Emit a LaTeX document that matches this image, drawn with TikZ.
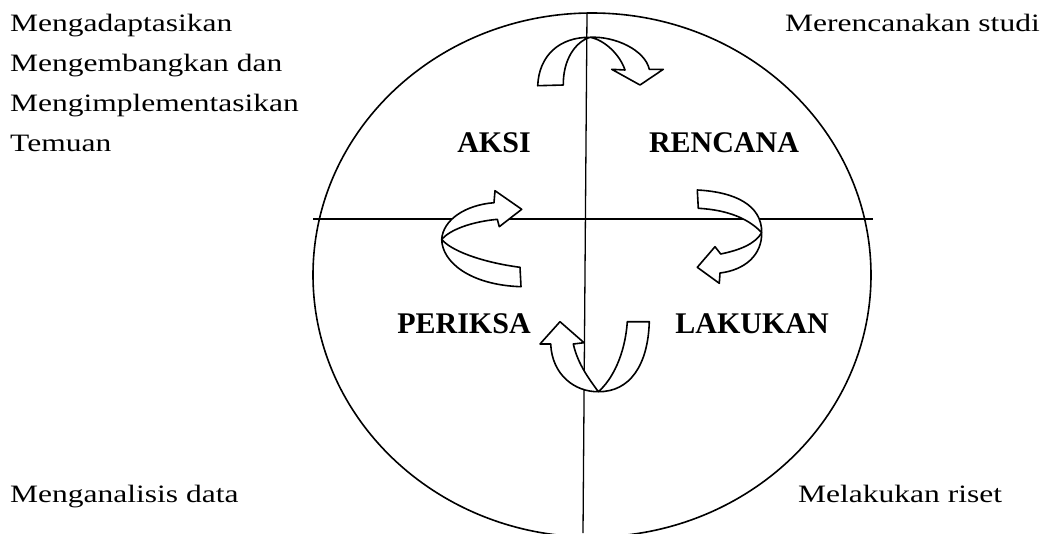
\documentclass[tikz,border=0pt]{standalone}
\usepackage{fontspec}
\setmainfont{Liberation Serif}
\newfontfamily\widefont{Liberation Serif}[FakeStretch=1.26]
\begin{document}
\begin{tikzpicture}[x=1pt,y=-1pt,
  lbl/.style={font=\widefont\fontsize{25}{29}\selectfont, inner sep=0pt},
  phase/.style={font=\bfseries\fontsize{30}{34}\selectfont, inner sep=0pt, anchor=base},
  axis/.style={draw=black, line width=1.3pt},
  rim/.style={draw=black, line width=1.6pt},
  arr/.style={draw=black, line width=1.6pt, fill=white, line join=round}]
\useasboundingbox (0,0) rectangle (1047,533);
\clip (0,0) rectangle (1047,533);
% axes
\coordinate (vt) at (587,13);
\coordinate (vb) at (583,533);
\coordinate (hl) at (313,219);
\coordinate (hr) at (873,219);
\draw[axis] (vt) -- (vb);
\draw[axis] (hl) -- (hr);
% circle
\coordinate (c) at (592,275);
\draw[rim] (c) ellipse [x radius=279pt, y radius=262pt];
% top arrow
\draw[arr] (537.7,85.7) .. controls (539,55) and (560,37) .. (590,37.3)
  .. controls (615,36) and (645,50) .. (649.3,69.3)
  -- (663.3,69.3) -- (640,85) -- (611.7,69.3) -- (625,70)
  .. controls (620,55) and (605,40) .. (590,37.3)
  .. controls (575,42) and (563,60) .. (563.3,85) -- cycle;
% right arrow
\draw[arr] (697.3,190) .. controls (735,192) and (762,205) .. (761.7,232.7)
  .. controls (762,255) and (745,270) .. (720,273)
  -- (719.3,283.3) -- (697.3,267.3) -- (715,246.7) -- (720.7,254)
  .. controls (740,250) and (755,244) .. (761.7,232.7)
  .. controls (750,220) and (730,210) .. (698.3,208.3) -- cycle;
% left arrow
\draw[arr] (520,267.3) .. controls (480,262) and (450,250) .. (441.7,239.3)
  .. controls (443,220) and (465,205) .. (494,202.7)
  -- (495,190.7) -- (521.7,209.3) -- (499.3,226.7) -- (497.3,219.3)
  .. controls (470,222) and (450,230) .. (441.7,239.3)
  .. controls (442,262) and (470,285) .. (521,286.7) -- cycle;
% bottom arrow
\draw[arr] (627.3,321.7) .. controls (625,355) and (612,380) .. (598.3,391.7)
  .. controls (575,392) and (552,375) .. (550.7,344)
  -- (540,344) -- (560,321.7) -- (584,342.7) -- (573.3,344)
  .. controls (578,365) and (590,380) .. (598.3,391.7)
  .. controls (630,392) and (648,365) .. (649.3,321.7) -- cycle;
% phase labels
\node[phase] (aksi) at (494,152) {AKSI};
\node[phase] (rencana) at (724,152) {RENCANA};
\node[phase] (periksa) at (464,333) {PERIKSA};
\node[phase] (lakukan) at (752,333) {LAKUKAN};
% side texts
\node[lbl, anchor=base west] (t1) at (10,31) {Mengadaptasikan};
\node[lbl, anchor=base west] (t2) at (10,71) {Mengembangkan dan};
\node[lbl, anchor=base west] (t3) at (10,111) {Mengimplementasikan};
\node[lbl, anchor=base west] (t4) at (10,151) {Temuan};
\node[lbl, anchor=base west] (t5) at (785,31) {Merencanakan studi};
\node[lbl, anchor=base west] (t6) at (10,502) {Menganalisis data};
\node[lbl, anchor=base west] (t7) at (798,502) {Melakukan riset};
\end{tikzpicture}
\end{document}
